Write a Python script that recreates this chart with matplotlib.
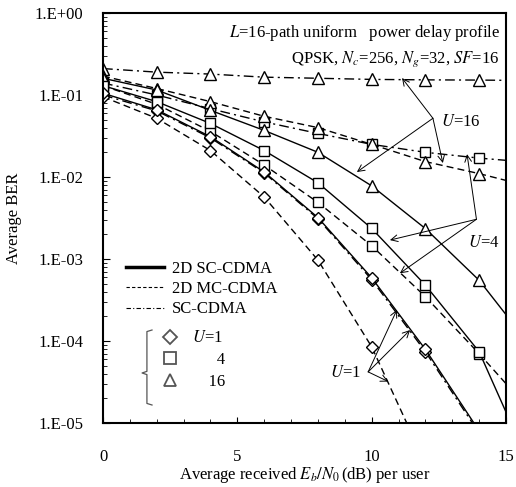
import numpy as np
import matplotlib
matplotlib.use("Agg")
import matplotlib.pyplot as plt
from matplotlib.lines import Line2D
from matplotlib.ticker import FixedLocator, FuncFormatter, MultipleLocator

plt.rcParams['font.family'] = ['Liberation Serif', 'DejaVu Serif']
plt.rcParams['mathtext.fontset'] = 'stix'
plt.rcParams['font.size'] = 12

# Eb/N0 points (dB); the last one lies past the axis so the lines run to the edge
snr = [0, 2, 4, 6, 8, 10, 12, 14, 16]

# 2D SC-CDMA (solid)
sc2d_u1 = [0.105, 0.066, 0.031, 0.0115, 3.2e-3, 5.9e-4, 7.9e-5, 8e-6, 5e-7]
sc2d_u4 = [0.13, 0.083, 0.045, 0.021, 8.5e-3, 2.36e-3, 4.8e-4, 7.4e-5, 2.5e-6]
sc2d_u16 = [0.16, 0.115, 0.065, 0.037, 0.020, 7.8e-3, 2.35e-3, 5.5e-4, 8e-5]
# 2D MC-CDMA (dashed)
mc2d_u1 = [0.095, 0.052, 0.021, 5.7e-3, 9.7e-4, 8.5e-5, 3.2e-6, np.nan, np.nan]
mc2d_u4 = [0.13, 0.077, 0.036, 0.014, 4.9e-3, 1.45e-3, 3.47e-4, 7.0e-5, 1.3e-5]
mc2d_u16 = [0.17, 0.12, 0.083, 0.055, 0.040, 0.025, 0.0154, 0.011, 7.5e-3]
# SC-CDMA (dash-dot)
sc_u1 = [0.1, 0.064, 0.03, 0.0112, 3.1e-3, 5.6e-4, 7.4e-5, 7.5e-6, 5e-7]
sc_u4 = [0.14, 0.1, 0.068, 0.047, 0.034, 0.025, 0.020, 0.017, 0.015]
sc_u16 = [0.21, 0.19, 0.18, 0.165, 0.16, 0.155, 0.153, 0.152, 0.15]

yticks = [1e-5, 1e-4, 1e-3, 1e-2, 1e-1, 1e0]
xticks = [0, 5, 10, 15]

fig = plt.figure(figsize=(5.16, 4.87), dpi=100)
ax = fig.add_axes([103 / 516, 1 - 423 / 487, 403 / 516, 410 / 487])

dash = (0, (5, 3))
dashdot = (0, (7, 3, 1.5, 3))
mk = dict(markerfacecolor='white', markeredgecolor='black', markeredgewidth=1.0)

series = [
    (sc_u16, dashdot, '^', 8), (sc_u4, dashdot, 's', 7.5), (sc_u1, dashdot, 'D', 6),
    (mc2d_u16, dash, '^', 8), (mc2d_u4, dash, 's', 7.5), (mc2d_u1, dash, 'D', 6),
    (sc2d_u16, '-', '^', 8), (sc2d_u4, '-', 's', 7.5), (sc2d_u1, '-', 'D', 6),
]
for vals, ls, m, ms in series:
    ax.plot(snr, vals, color='black', linestyle=ls, linewidth=1.0,
            marker=m, markersize=ms, **mk)

ax.set_yscale('log')
ax.set_xlim(0, 15)
ax.set_ylim(1e-5, 1)
ax.xaxis.set_major_locator(FixedLocator(xticks))
ax.xaxis.set_minor_locator(MultipleLocator(1))
ax.yaxis.set_major_locator(FixedLocator(yticks))
ax.yaxis.set_major_formatter(FuncFormatter(lambda v, p: "1.E%+03d" % int(round(np.log10(v)))))
ax.tick_params(axis='both', which='both', direction='in', top=False, right=False)
ax.tick_params(axis='x', which='major', length=4, pad=19, labelsize=12)
ax.tick_params(axis='x', which='minor', length=3)
ax.tick_params(axis='y', which='major', length=5, pad=14, labelsize=12)
ax.tick_params(axis='y', which='minor', length=3)
for s in ax.spines.values():
    s.set_linewidth(1.5)

ax.set_ylabel('Average BER', fontsize=12, labelpad=9)
ax.set_xlabel('Average received $E_b/N_0\\,$(dB) per user', fontsize=12, labelpad=0)

ax.text(0.985, 0.952, '$L$=16-path uniform   power delay profile', transform=ax.transAxes,
        ha='right', va='center', fontsize=12)
ax.text(0.985, 0.888, 'QPSK, $N_c$=256, $N_g$=32, $SF$=16', transform=ax.transAxes,
        ha='right', va='center', fontsize=12)

# annotations with arrows
arr = dict(arrowstyle='->', lw=0.7, color='black', shrinkA=0, shrinkB=0)
ax.text(12.58, 0.047, '$U$=16', ha='left', va='center', fontsize=12)
for tgt in [(11.13, 0.161), (9.45, 0.0115), (12.65, 0.0148)]:
    ax.annotate('', xy=tgt, xytext=(12.28, 0.052), arrowprops=arr)
ax.text(13.58, 1.57e-3, '$U$=4', ha='left', va='center', fontsize=12)
for tgt in [(13.55, 0.019), (10.68, 1.7e-3), (11.05, 6.7e-4)]:
    ax.annotate('', xy=tgt, xytext=(13.9, 3.05e-3), arrowprops=arr)
ax.text(8.45, 4.07e-5, '$U$=1', ha='left', va='center', fontsize=12)
for tgt in [(10.94, 2.4e-4), (11.43, 1.36e-4), (10.62, 3.2e-5)]:
    ax.annotate('', xy=tgt, xytext=(9.87, 4.2e-5), arrowprops=arr)

# legend of line styles
h1 = [Line2D([], [], color='black', lw=2.5, linestyle='-'),
      Line2D([], [], color='black', lw=0.8, linestyle=(0, (3, 2))),
      Line2D([], [], color='black', lw=0.8, linestyle=(0, (4, 2, 1, 2)))]
leg1 = ax.legend(h1, ['2D SC-CDMA', '2D MC-CDMA', 'SC-CDMA'], loc='upper left',
                 bbox_to_anchor=(0.057, 0.395), frameon=False, fontsize=12,
                 borderpad=0, borderaxespad=0, handlelength=2.3, handletextpad=0.45,
                 labelspacing=0.25)
ax.add_artist(leg1)

# legend of markers
gm = dict(color='#555555', linestyle='none', markerfacecolor='white',
          markeredgecolor='#555555', markeredgewidth=1.3)
h2 = [Line2D([], [], marker='D', markersize=7, **gm),
      Line2D([], [], marker='s', markersize=8, **gm),
      Line2D([], [], marker='^', markersize=8, **gm)]
ax.legend(h2, ['$U$=1', '      4', '    16'], loc='upper left',
          bbox_to_anchor=(0.146, 0.226), frameon=False, fontsize=12,
          borderpad=0, borderaxespad=0, handlelength=1.0, handletextpad=0.8,
          labelspacing=0.35)

# brace next to the marker legend
bx, bn, be = 0.109, 0.097, 0.1216
ax.plot([be, bx, bx, bn, bx, bx, be], [0.2268, 0.2230, 0.126, 0.122, 0.118, 0.0477, 0.0439],
        transform=ax.transAxes, color='#555555', lw=0.9, clip_on=False)

fig.savefig('out.png', dpi=100)
